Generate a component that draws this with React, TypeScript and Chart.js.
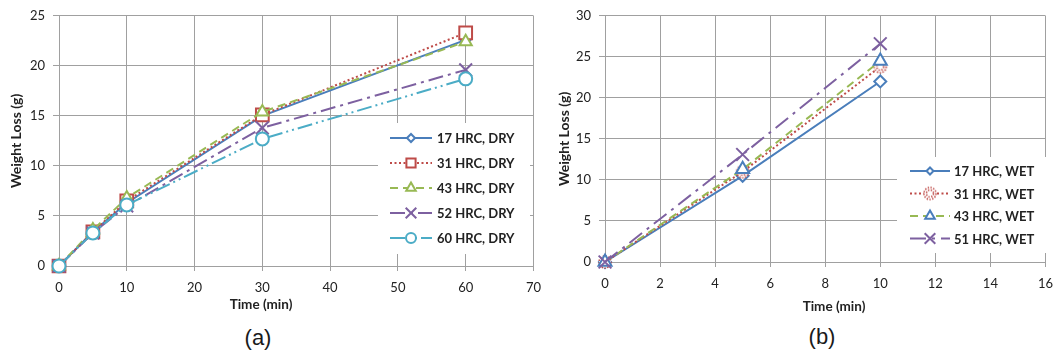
import React, { useEffect, useRef } from 'react';
import { Chart, registerables } from 'chart.js';
import { drawPoint } from 'chart.js/helpers';

Chart.register(...registerables);

// ---------- data ----------
const dryTimes = [0, 5, 10, 30, 60];
const dry17 = [0, 3.4, 6.3, 15.0, 22.6];
const dry31 = [0, 3.4, 6.5, 15.1, 23.3];
const dry43 = [0, 3.6, 6.8, 15.4, 22.4];
const dry52 = [0, 3.3, 6.0, 13.8, 19.6];
const dry60 = [0, 3.3, 6.1, 12.7, 18.7];
const dryLabels = ['17 HRC, DRY', '31 HRC, DRY', '43 HRC, DRY', '52 HRC, DRY', '60 HRC, DRY'];
const dryXTicks = [0, 10, 20, 30, 40, 50, 60, 70];
const dryYTicks = [0, 5, 10, 15, 20, 25];

const wetTimes = [0, 5, 10];
const wet17 = [0, 10.5, 22.0];
const wet31 = [0, 11.0, 23.8];
const wet43 = [0, 11.3, 24.5];
const wet51 = [0, 13.1, 26.6];
const wetLabels = ['17 HRC, WET', '31 HRC, WET', '43 HRC, WET', '51 HRC, WET'];
const wetXTicks = [0, 2, 4, 6, 8, 10, 12, 14, 16];
const wetYTicks = [0, 5, 10, 15, 20, 25, 30];

const xTitle = 'Time (min)';
const yTitle = 'Weight Loss (g)';

// ---------- styles ----------
const BLUE = '#4A7EBB';
const RED = '#BE4B48';
const GREEN = '#98B954';
const PURPLE = '#7D60A0';
const CYAN = '#4BACC6';
const GRID = '#a0a0a0';
const TEXT = '#222222';
const FONT = 'Lato, "Open Sans", sans-serif';

Chart.defaults.font.family = FONT;

function dottedCircle(color: string, r: number) {
  const c = document.createElement('canvas');
  const s = Math.ceil(2 * r + 4);
  c.width = s;
  c.height = s;
  const ctx = c.getContext('2d')!;
  ctx.fillStyle = '#fff';
  ctx.beginPath();
  ctx.arc(s / 2, s / 2, r, 0, Math.PI * 2);
  ctx.fill();
  ctx.strokeStyle = color;
  ctx.lineWidth = 1.6;
  ctx.setLineDash([1.4, 1.4]);
  ctx.beginPath();
  ctx.arc(s / 2, s / 2, r, 0, Math.PI * 2);
  ctx.stroke();
  ctx.beginPath();
  ctx.arc(s / 2, s / 2, r - 2.5, 0, Math.PI * 2);
  ctx.stroke();
  return c;
}

const legendPlugin = {
  id: 'boxLegend',
  afterDraw(chart: any, _args: any, opts: any) {
    const ctx = chart.ctx;
    ctx.save();
    ctx.fillStyle = '#fff';
    ctx.fillRect(opts.box.x, opts.box.y, opts.box.w, opts.box.h);
    chart.data.datasets.forEach((ds: any, i: number) => {
      const y = opts.y0 + i * opts.dy;
      ctx.save();
      ctx.strokeStyle = ds.borderColor;
      ctx.lineWidth = ds.borderWidth;
      ctx.setLineDash(ds.borderDash || []);
      ctx.beginPath();
      ctx.moveTo(opts.x1, y);
      ctx.lineTo(opts.x2, y);
      ctx.stroke();
      ctx.restore();
      ctx.save();
      ctx.setLineDash([]);
      ctx.strokeStyle = ds.pointBorderColor;
      ctx.fillStyle = ds.pointBackgroundColor;
      ctx.lineWidth = ds.pointBorderWidth;
      const style = ds.legendPointStyle || ds.pointStyle;
      drawPoint(ctx, { pointStyle: style, radius: ds.legendRadius, rotation: 0, borderWidth: ds.pointBorderWidth } as any, (opts.x1 + opts.x2) / 2, y);
      ctx.restore();
      ctx.fillStyle = TEXT;
      ctx.font = 'bold 13px ' + FONT;
      ctx.textBaseline = 'middle';
      ctx.textAlign = 'left';
      ctx.fillText(ds.label, opts.tx, y + 1);
    });
    ctx.restore();
  },
};

const xTitlePlugin = {
  id: 'xTitle',
  afterDraw(chart: any, _args: any, opts: any) {
    const ctx = chart.ctx;
    ctx.save();
    ctx.fillStyle = TEXT;
    ctx.font = 'bold 13.5px ' + FONT;
    ctx.textAlign = 'center';
    ctx.textBaseline = 'middle';
    ctx.fillText(opts.text, opts.x, opts.y);
    ctx.restore();
  },
};

function series(label: string, xs: number[], ys: number[], color: string, dash: number[], pointStyle: any, radius: number, legendRadius: number, order: number, markerColor?: string, legendPointStyle?: any) {
  return {
    label,
    data: xs.map((x, i) => ({ x, y: ys[i] })),
    borderColor: color,
    borderWidth: 2,
    borderDash: dash,
    pointStyle,
    legendPointStyle,
    pointRadius: radius,
    legendRadius,
    pointBorderColor: markerColor || color,
    pointBackgroundColor: '#fff',
    pointBorderWidth: 2,
    tension: 0,
    fill: false,
    clip: false,
    order,
  };
}

function makeScales(xTicks: number[], yTicks: number[], yWidth: number, xHeight: number, yTitlePad: number, xPad: number) {
  const tickFont = { size: 13, family: FONT };
  return {
    x: {
      type: 'linear',
      min: xTicks[0],
      max: xTicks[xTicks.length - 1],
      ticks: { stepSize: xTicks[1] - xTicks[0], color: TEXT, font: tickFont, padding: xPad, maxRotation: 0 },
      grid: { color: GRID, tickLength: 5, lineWidth: 1 },
      border: { color: GRID, width: 1 },
      afterFit: (s: any) => { s.height = xHeight; },
    },
    y: {
      type: 'linear',
      min: yTicks[0],
      max: yTicks[yTicks.length - 1],
      ticks: { stepSize: yTicks[1] - yTicks[0], color: TEXT, font: tickFont, padding: 8 },
      grid: { color: GRID, tickLength: 6, lineWidth: 1 },
      border: { color: GRID, width: 1 },
      title: { display: true, text: yTitle, color: TEXT, font: { size: 14, weight: 'bold', family: FONT }, padding: { top: yTitlePad, bottom: 0 } },
      afterFit: (s: any) => { s.width = yWidth; },
    },
  };
}

function DryChart() {
  const ref = useRef<HTMLCanvasElement>(null);
  useEffect(() => {
    const datasets = [
      series(dryLabels[0], dryTimes, dry17, BLUE, [], 'rectRot', 5, 4, 5),
      series(dryLabels[1], dryTimes, dry31, RED, [2, 2.5], 'rect', 9, 6.5, 4),
      series(dryLabels[2], dryTimes, dry43, GREEN, [8, 5], 'triangle', 7, 5.5, 3),
      series(dryLabels[3], dryTimes, dry52, PURPLE, [15, 5, 3, 5], 'crossRot', 9, 7.5, 2),
      series(dryLabels[4], dryTimes, dry60, CYAN, [15, 4, 2, 4, 2, 4], 'circle', 6.5, 5, 1),
    ];
    const chart = new Chart(ref.current!, {
      type: 'line',
      data: { datasets } as any,
      options: {
        animation: false,
        responsive: false,
        layout: { padding: { top: 10, right: 16, left: 0, bottom: 0 } },
        scales: makeScales(dryXTicks, dryYTicks, 59, 54, 8, 9) as any,
        plugins: {
          legend: { display: false },
          tooltip: { enabled: false },
          boxLegend: { box: { x: 378, y: 123, w: 152, h: 131 }, y0: 138, dy: 25, x1: 390, x2: 432, tx: 437 },
          xTitle: { text: xTitle, x: 261, y: 305 },
        } as any,
      },
      plugins: [legendPlugin, xTitlePlugin],
    });
    return () => chart.destroy();
  }, []);
  return <canvas ref={ref} width={550} height={320} style={{ position: 'absolute', left: 0, top: 0, width: 550, height: 320 }} />;
}

function WetChart() {
  const ref = useRef<HTMLCanvasElement>(null);
  useEffect(() => {
    const dc = dottedCircle(RED, 6);
    const dcLegend = dottedCircle(RED, 6);
    const datasets = [
      series(wetLabels[0], wetTimes, wet17, BLUE, [], 'rectRot', 6, 3.5, 4),
      series(wetLabels[1], wetTimes, wet31, RED, [2, 2.5], dc, 6, 6, 3, RED, dcLegend),
      series(wetLabels[2], wetTimes, wet43, GREEN, [8, 5], 'triangle', 7.5, 5.5, 2, BLUE),
      series(wetLabels[3], wetTimes, wet51, PURPLE, [16, 6, 3, 6], 'crossRot', 9, 7.5, 1),
    ];
    const chart = new Chart(ref.current!, {
      type: 'line',
      data: { datasets } as any,
      options: {
        animation: false,
        responsive: false,
        layout: { padding: { top: 15, right: 11, left: 0, bottom: 0 } },
        scales: makeScales(wetXTicks, wetYTicks, 55, 58, 6, 9) as any,
        plugins: {
          legend: { display: false },
          tooltip: { enabled: false },
          boxLegend: { box: { x: 347, y: 157, w: 149, h: 96 }, y0: 171, dy: 22.5, x1: 360, x2: 400, tx: 404 },
          xTitle: { text: xTitle, x: 284, y: 307 },
        } as any,
      },
      plugins: [legendPlugin, xTitlePlugin],
    });
    return () => chart.destroy();
  }, []);
  return <canvas ref={ref} width={512} height={320} style={{ position: 'absolute', left: 550, top: 0, width: 512, height: 320 }} />;
}

const capStyle: React.CSSProperties = {
  position: 'absolute',
  transform: 'translate(-50%, -50%)',
  fontFamily: '"Liberation Sans", Arial, sans-serif',
  fontSize: 22,
  lineHeight: 1,
  color: '#1a1a1a',
  whiteSpace: 'nowrap',
};

export default function App() {
  return (
    <div style={{ position: 'absolute', left: 0, top: 0, width: 1062, height: 355, background: '#fff', overflow: 'hidden' }}>
      <DryChart />
      <WetChart />
      <div style={{ ...capStyle, left: 258, top: 338 }}>(a)</div>
      <div style={{ ...capStyle, left: 822, top: 337 }}>(b)</div>
    </div>
  );
}
